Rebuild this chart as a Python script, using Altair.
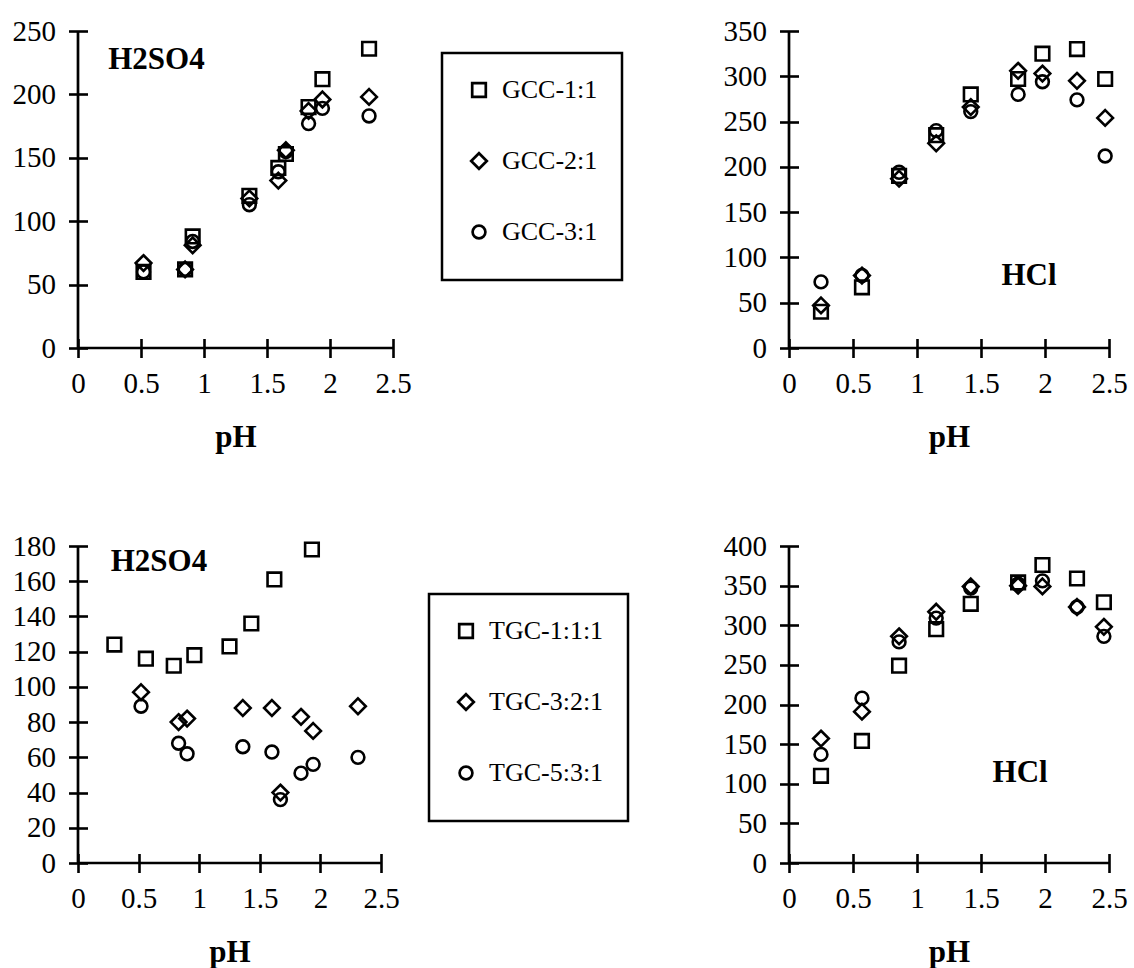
import altair as alt
import pandas as pd

# ---- H2SO4 leaching, GCC mixtures ----
ph_gcc_h2so4 = [0.52, 0.85, 0.91, 1.36, 1.59, 1.65, 1.83, 1.94, 2.31]
gcc11_h2so4 = [60, 62, 88, 120, 142, 153, 190, 212, 236]
gcc21_h2so4 = [67, 62, 81, 118, 132, 156, 187, 196, 198]
gcc31_h2so4 = [60, 62, 84, 113, 139, 155, 177, 189, 183]

# ---- HCl leaching, GCC mixtures ----
ph_gcc_hcl = [0.25, 0.57, 0.86, 1.15, 1.42, 1.79, 1.98, 2.25, 2.47]
gcc11_hcl = [40, 67, 190, 235, 280, 297, 325, 330, 297]
gcc21_hcl = [47, 80, 187, 226, 266, 306, 303, 295, 254]
gcc31_hcl = [73, 80, 194, 240, 261, 280, 294, 274, 212]

# ---- H2SO4 leaching, TGC mixtures ----
ph_tgc111_h2so4 = [0.30, 0.56, 0.79, 0.96, 1.25, 1.43, 1.62, 1.93]
tgc111_h2so4 = [124, 116, 112, 118, 123, 136, 161, 178]
ph_tgc_h2so4 = [0.52, 0.83, 0.90, 1.36, 1.60, 1.67, 1.84, 1.94, 2.31]
tgc321_h2so4 = [97, 80, 82, 88, 88, 40, 83, 75, 89]
tgc531_h2so4 = [89, 68, 62, 66, 63, 36, 51, 56, 60]

# ---- HCl leaching, TGC mixtures ----
ph_tgc_hcl = [0.25, 0.57, 0.86, 1.15, 1.42, 1.79, 1.98, 2.25, 2.46]
tgc111_hcl = [110, 154, 249, 295, 327, 354, 376, 359, 329]
tgc321_hcl = [157, 191, 286, 317, 349, 350, 349, 323, 298]
tgc531_hcl = [137, 208, 279, 309, 347, 352, 356, 323, 286]

gcc_names = ["GCC-1:1", "GCC-2:1", "GCC-3:1"]
tgc_names = ["TGC-1:1:1", "TGC-3:2:1", "TGC-5:3:1"]
x_ticks = [0, 0.5, 1, 1.5, 2, 2.5]

FONT = "Liberation Serif"
# open square, open diamond, open circle (unit-box symbol paths)
SHAPES = [
    "M-1,-1H1V1H-1Z",
    "M0,-1.15L1.15,0L0,1.15L-1.15,0Z",
    "M0.94,0A0.94,0.94,0,1,1,-0.94,0A0.94,0.94,0,1,1,0.94,0Z",
]
MARK_SIZE = 185


def frame(series):
    rows = []
    for name, xs, ys in series:
        for xv, yv in zip(xs, ys):
            rows.append({"series": name, "pH": xv, "value": yv})
    return pd.DataFrame(rows)


def panel(df, names, ymax, ystep, note, note_x, note_y, width, legend=None):
    x_scale = alt.Scale(domain=[0, 2.5], nice=False, zero=False)
    y_scale = alt.Scale(domain=[0, ymax], nice=False)
    x_axis = alt.Axis(values=x_ticks, format="~g", title="pH", offset=-9.5,
                      tickSize=19, labelPadding=12, titlePadding=24,
                      labelFlush=False, labelOverlap=False)
    y_axis = alt.Axis(values=list(range(0, ymax + 1, ystep)), title=None,
                      offset=-9.5, tickSize=19, labelPadding=13,
                      labelFlush=False, labelOverlap=False)

    pts = alt.Chart(df).mark_point(
        filled=False, color="black", strokeWidth=2.6, opacity=1, size=MARK_SIZE
    ).encode(
        x=alt.X("pH:Q", scale=x_scale, axis=x_axis),
        y=alt.Y("value:Q", scale=y_scale, axis=y_axis),
        shape=alt.Shape("series:N", scale=alt.Scale(domain=names, range=SHAPES),
                        legend=legend),
    )
    one = pd.DataFrame({"k": [0]})
    x_line = alt.Chart(one).mark_rule(color="black", strokeWidth=2.7).encode(
        x=alt.X(datum=0, scale=x_scale, axis=x_axis), x2=alt.datum(2.5),
        y=alt.Y(datum=0, scale=y_scale, axis=y_axis),
    )
    y_line = alt.Chart(one).mark_rule(color="black", strokeWidth=2.7).encode(
        x=alt.X(datum=0, scale=x_scale, axis=x_axis),
        y=alt.Y(datum=0, scale=y_scale, axis=y_axis), y2=alt.datum(ymax),
    )
    label = alt.Chart(one).mark_text(
        align="left", baseline="middle", font=FONT, fontSize=31, fontWeight="bold", color="black"
    ).encode(
        x=alt.X(datum=note_x, scale=x_scale, axis=x_axis),
        y=alt.Y(datum=note_y, scale=y_scale, axis=y_axis),
        text=alt.value(note),
    )
    return alt.layer(pts, x_line, y_line, label).properties(width=width, height=317)


def box_legend(lx, ly):
    return alt.Legend(
        orient="none", legendX=lx, legendY=ly, title=" ", titleOrient="bottom",
        titleFontSize=9, titlePadding=2,
        padding=24, rowPadding=44,
        labelFont=FONT, labelFontSize=26, labelColor="black", labelOffset=10,
        strokeColor="black", fillColor="white", symbolSize=MARK_SIZE, symbolStrokeWidth=2.7,
        symbolStrokeColor="black", symbolFillColor="white",
    )


df1 = frame([(gcc_names[0], ph_gcc_h2so4, gcc11_h2so4),
             (gcc_names[1], ph_gcc_h2so4, gcc21_h2so4),
             (gcc_names[2], ph_gcc_h2so4, gcc31_h2so4)])
df2 = frame([(gcc_names[0], ph_gcc_hcl, gcc11_hcl),
             (gcc_names[1], ph_gcc_hcl, gcc21_hcl),
             (gcc_names[2], ph_gcc_hcl, gcc31_hcl)])
df3 = frame([(tgc_names[0], ph_tgc111_h2so4, tgc111_h2so4),
             (tgc_names[1], ph_tgc_h2so4, tgc321_h2so4),
             (tgc_names[2], ph_tgc_h2so4, tgc531_h2so4)])
df4 = frame([(tgc_names[0], ph_tgc_hcl, tgc111_hcl),
             (tgc_names[1], ph_tgc_hcl, tgc321_hcl),
             (tgc_names[2], ph_tgc_hcl, tgc531_hcl)])

p1 = panel(df1, gcc_names, 250, 50, "H2SO4", 0.24, 227, 315, box_legend(364, 22))
p2 = panel(df2, gcc_names, 350, 50, "HCl", 1.66, 79, 320)
p3 = panel(df3, tgc_names, 180, 20, "H2SO4", 0.27, 171, 303, box_legend(351, 48))
p4 = panel(df4, tgc_names, 400, 50, "HCl", 1.59, 114, 320)

chart = (
    alt.concat(p1, p2, p3, p4, columns=2, spacing={"row": 198, "column": 396}, bounds="flush")
    .resolve_scale(x="independent", y="independent", shape="independent")
    .resolve_legend(shape="independent")
    .properties(padding={"left": 12, "top": 17, "right": 0, "bottom": 0}, background="white")
    .configure_view(stroke=None)
    .configure_axis(
        grid=False, domain=False, tickColor="black", tickWidth=2.6,
        labelFont=FONT, labelFontSize=29, labelColor="black",
        titleFont=FONT, titleFontSize=31, titleFontWeight="bold", titleColor="black",
    )
    .configure_legend(strokeWidth=2.5)
)

chart.save("out.html", embed_options={"renderer": "svg", "actions": False})
